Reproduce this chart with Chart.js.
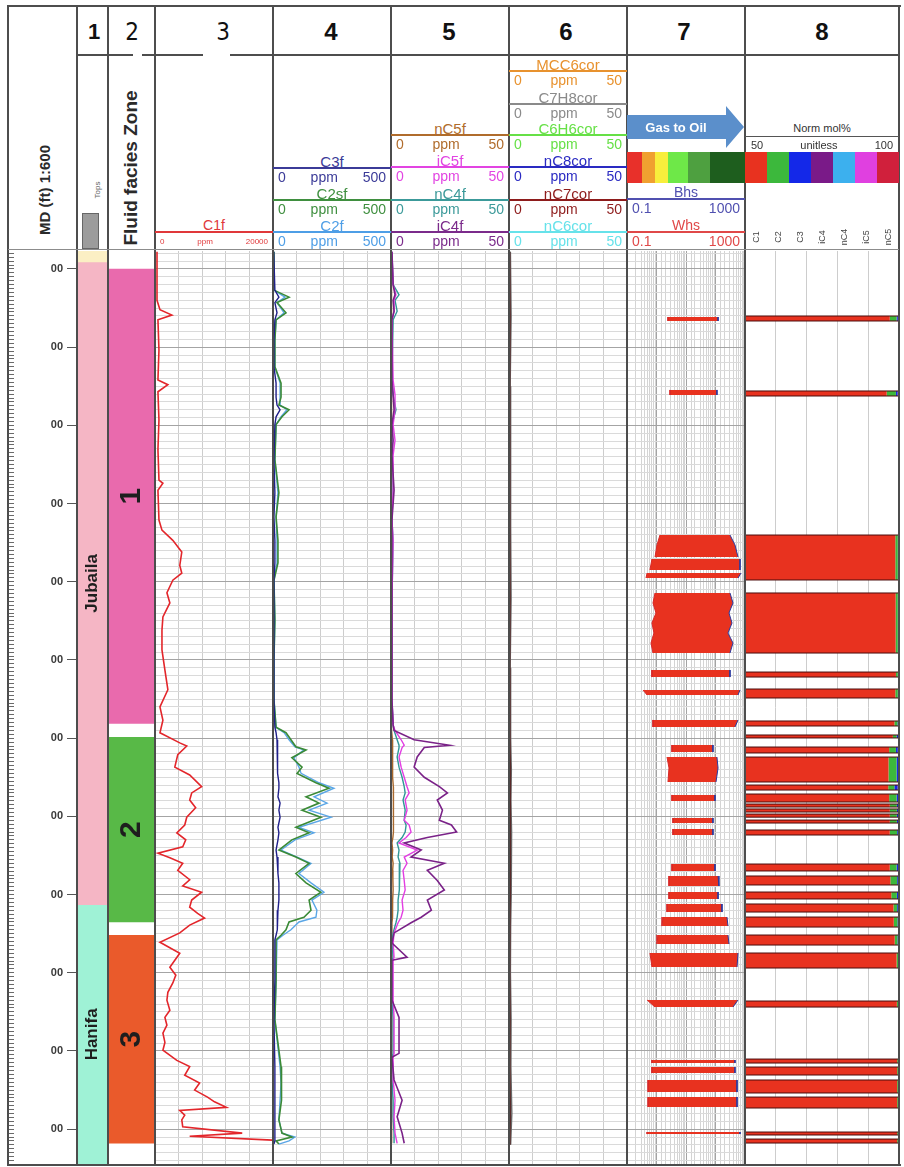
<!DOCTYPE html>
<html>
<head>
<meta charset="utf-8">
<title>Mud gas log</title>
<script src="https://cdn.jsdelivr.net/npm/chart.js@4.4.1/dist/chart.umd.min.js"></script>
<style>
  html, body { margin: 0; padding: 0; background: #fff; }
  #page { position: relative; width: 904px; height: 1167px; overflow: hidden; font-family: "Liberation Sans", Arial, sans-serif; }
  #page canvas { position: absolute; }
</style>
</head>
<body>
<div id="page"></div>
<script>
// ---------- depth range (ft) ----------
const depthMin = 77;
const depthMax = 1244.5;

// ---------- track 1 : tops ----------
const formationNames = ['', 'Jubaila', 'Hanifa'];
const formationTop = [40, 91, 913];
const formationBase = [91, 913, 1260];

// ---------- track 2 : fluid facies zones ----------
const zoneNames = ['1', '2', '3'];
const zoneTop = [100, 699, 952];
const zoneBase = [681, 935, 1218];

// ---------- track 3 : C1f (ppm) ----------
const c1fDepth = [78, 114, 140, 152, 159, 165, 204, 242, 248, 257, 293, 331, 370, 374, 383, 421, 434, 447, 462, 479,
  489, 498, 514, 527, 545, 562, 587, 613, 638, 660, 677, 693, 706, 710, 721, 737, 747, 762, 770, 779,
  789, 801, 811, 821, 830, 839, 847, 853, 860, 869, 881, 889, 897, 907, 916, 924, 930, 939, 949, 961,
  975, 984, 993, 1003, 1013, 1025, 1035, 1048, 1057, 1067, 1077, 1089, 1099, 1112, 1120, 1131, 1141, 1150, 1159, 1165,
  1172, 1176, 1182, 1188, 1197, 1205, 1209, 1214];
const c1f = [340, 340, 340, 840, 2860, 500, 670, 500, 2180, 500, 670, 500, 670, 1340, 500, 670, 1180, 3020, 4540, 4200,
  4540, 3020, 2020, 2520, 1340, 1180, 1180, 1680, 2180, 840, 1340, 840, 4200, 5380, 3860, 3360, 5880, 7900, 6220, 5880,
  6890, 5380, 5040, 3700, 5210, 4700, 500, 2520, 4700, 3860, 5880, 4700, 7900, 6220, 5880, 7220, 8400, 5880, 4200, 840,
  4200, 3360, 2520, 3530, 3020, 2180, 2020, 2520, 1680, 2020, 1340, 1680, 1340, 3700, 5880, 5040, 7560, 6720, 8900, 10080,
  12100, 4200, 5040, 4540, 4700, 14780, 5880, 19900];

// ---------- track 4 : C3f, C2sf, C2f (ppm) ----------
const t4Depth = [78, 127, 136, 143, 156, 165, 191, 225, 246, 264, 274, 280, 289, 299, 344, 386, 417, 447, 476, 498,
  549, 600, 651, 686, 693, 702, 711, 715, 725, 737, 745, 757, 764, 775, 783, 792, 801, 814, 821, 830,
  843, 852, 860, 873, 885, 897, 907, 920, 929, 935, 945, 952, 958, 1009, 1060, 1120, 1141, 1163, 1188, 1205,
  1210, 1215, 1219];
const c3f = [3, 8, 25, 8, 17, 8, 4, 4, 13, 13, 17, 30, 13, 8, 4, 8, 4, 8, 8, 4,
  4, 4, 4, 8, 13, 17, 17, 21, 17, 21, 21, 25, 25, 21, 30, 25, 30, 21, 25, 21,
  13, 17, 21, 21, 25, 25, 25, 21, 21, 17, 17, 13, 8, 8, 4, 8, 8, 8, 8, 8,
  8, 8, 4];
const c2sf = [4, 4, 68, 17, 55, 13, 8, 8, 34, 34, 25, 68, 38, 13, 8, 25, 13, 21, 21, 4,
  8, 4, 4, 13, 55, 76, 97, 140, 80, 123, 102, 182, 237, 140, 195, 123, 203, 97, 153, 80,
  25, 97, 153, 97, 140, 203, 153, 161, 131, 68, 55, 34, 13, 13, 8, 34, 38, 34, 25, 38,
  80, 13, 25];
const c2f = [4, 4, 51, 17, 47, 13, 8, 8, 30, 30, 30, 59, 34, 13, 8, 21, 13, 17, 17, 4,
  8, 4, 4, 13, 47, 68, 93, 131, 89, 110, 119, 195, 258, 174, 229, 153, 246, 110, 174, 93,
  34, 102, 161, 110, 161, 216, 165, 186, 182, 110, 76, 42, 17, 13, 8, 30, 34, 30, 25, 38,
  93, 68, 25];

// ---------- track 5 : iC4f, iC5f, nC4f, nC5f (ppm) ----------
const t5Depth = [78, 120, 133, 140, 154, 165, 242, 261, 280, 299, 319, 338, 383, 421, 447, 523, 587, 651, 683, 690,
  702, 709, 712, 724, 737, 750, 762, 770, 779, 792, 805, 811, 820, 827, 834, 843, 852, 860, 869, 882,
  894, 907, 920, 929, 936, 949, 962, 980, 984, 1035, 1057, 1103, 1108, 1137, 1163, 1184, 1205, 1218];
const ic4f = [0.4, 0.9, 1.7, 0.9, 1.3, 0.4, 0.4, 0.9, 1.3, 0.4, 0.9, 0.4, 1.3, 0.4, 0.4, 0.4, 0.4, 0.4, 0.9, 1.3,
  9.8, 24.8, 14.1, 11.1, 9.8, 14.1, 20.5, 23.9, 19.6, 21.8, 20.5, 25.6, 27.8, 15.4, 5.6, 12.8, 8.5, 22.6, 15.4, 19.6,
  22.6, 15.4, 17.1, 12.8, 8.5, 1.3, 0.4, 6.8, 0.4, 0.4, 3.4, 3.4, 0.4, 1.3, 4.7, 2.6, 4.7, 5.6];
const ic5f = [0.4, 0.9, 2.1, 1.3, 1.3, 0.4, 0.9, 1.7, 1.7, 0.9, 1.7, 0.9, 0.9, 0.4, 0.9, 0.4, 0.4, 0.4, 0.9, 1.7,
  4.3, 5.6, 4.7, 3.4, 4.3, 5.6, 6.8, 7.7, 6.0, 6.8, 5.6, 7.7, 8.5, 6.4, 3.4, 11.1, 5.6, 6.8, 5.1, 5.6,
  6.0, 4.7, 5.1, 4.3, 3.0, 1.3, 0.9, 1.3, 0.9, 0.9, 1.3, 1.3, 0.9, 0.9, 1.7, 1.3, 1.7, 2.6];
const nc4f = [0.4, 0.9, 3.4, 1.7, 2.6, 0.9, 0.4, 0.9, 2.1, 0.4, 0.4, 0.4, 0.4, 0.4, 0.9, 0.4, 0.4, 0.4, 0.9, 1.3,
  2.6, 3.4, 3.4, 2.6, 3.4, 4.7, 5.6, 6.0, 5.1, 6.0, 5.6, 6.4, 6.0, 4.7, 2.6, 3.4, 3.0, 3.8, 3.4, 3.4,
  3.8, 3.0, 3.0, 2.6, 2.1, 0.9, 0.4, 0.9, 0.4, 0.4, 0.9, 0.9, 0.4, 0.4, 0.9, 0.9, 1.3, 1.3];
const nc5f = [0.2, 0.2, 0.4, 0.2, 0.3, 0.2, 0.2, 0.2, 0.3, 0.2, 0.2, 0.2, 0.2, 0.2, 0.2, 0.2, 0.2, 0.2, 0.2, 0.3,
  0.6, 0.8, 0.7, 0.5, 0.6, 0.8, 1.0, 1.1, 0.9, 1.0, 0.9, 1.1, 1.2, 0.8, 0.4, 0.7, 0.5, 0.9, 0.7, 0.8,
  0.9, 0.7, 0.7, 0.6, 0.4, 0.2, 0.2, 0.3, 0.2, 0.2, 0.3, 0.3, 0.2, 0.2, 0.3, 0.3, 0.3, 0.4];

// ---------- track 6 : aromatics / heavy cuts (ppm) ----------
const t6Depth = [78, 160, 250, 340, 430, 520, 610, 700, 740, 780, 820, 860, 900, 940, 1000, 1060, 1120, 1180, 1220];
const mcc6cor = [0.2, 0.3, 0.2, 0.2, 0.2, 0.3, 0.2, 0.2, 0.4, 0.3, 0.4, 0.3, 0.3, 0.2, 0.2, 0.3, 0.2, 0.4, 0.2];
const c7h8cor = [0.6, 0.9, 0.5, 0.8, 0.6, 0.9, 0.5, 0.7, 1.0, 0.8, 1.1, 0.9, 1.0, 0.7, 0.6, 0.9, 0.8, 1.2, 0.7];
const c6h6cor = [0.1, 0.2, 0.1, 0.1, 0.1, 0.2, 0.1, 0.1, 0.3, 0.2, 0.3, 0.2, 0.2, 0.1, 0.1, 0.2, 0.1, 0.3, 0.1];
const nc8cor = [0.2, 0.2, 0.1, 0.2, 0.2, 0.2, 0.1, 0.2, 0.3, 0.3, 0.3, 0.2, 0.3, 0.2, 0.1, 0.2, 0.2, 0.3, 0.2];
const nc7cor = [0.3, 0.5, 0.3, 0.4, 0.3, 0.5, 0.3, 0.4, 0.6, 0.5, 0.7, 0.5, 0.6, 0.4, 0.3, 0.5, 0.4, 0.6, 0.4];
const nc6cor = [0.3, 0.4, 0.3, 0.3, 0.3, 0.4, 0.3, 0.3, 0.5, 0.4, 0.6, 0.4, 0.5, 0.3, 0.3, 0.4, 0.3, 0.5, 0.3];

// ---------- track 7 : Whs / Bhs (null = no gas show) ----------
const t7Depth = [
  161.4, 166.5, 170,   254.7, 261.1, 300,   440.2, 452.9, 468.3, 469.6,   470.9, 484.9, 486.8,   488.8, 495.2, 505,
  514.3, 527.1, 539.9, 552.7, 565.5, 578.3, 591.1, 600,   612.8, 621.8, 630,   638.4, 644.8, 660,   676.7, 685.7, 697,
  708.7, 717.7, 721,   724.1, 738.1, 756.0, 765,   772.6, 780.3, 790,   802.1, 808.5, 812,   816.1, 823.8, 840,
  860.9, 869.8, 873,   876.2, 889.0, 893,   896.7, 905.6, 909,   912.0, 922.3, 925,   928.7, 940.2, 946,
  951.7, 963.2, 969,   974.7, 992.6, 1010,   1034.8, 1043.8, 1080,   1111.5, 1115.4, 1118,   1120.5, 1128.2, 1133,
  1137.1, 1152.5, 1156,   1158.9, 1171.6, 1190,   1203.6, 1206.2];
const t7Whs = [
  2.45, 2.45, null,   2.87, 2.87, null,   1.31, 1.04, 0.89, null,   0.70, 0.60, null,   0.48, 0.44, null,
  0.89, 0.76, 0.96, 0.70, 0.82, 0.65, 0.76, null,   0.70, 0.70, null,   0.35, 0.48, null,   0.76, 0.76, null,
  3.35, 3.35, null,   2.27, 2.65, 2.45, null,   3.35, 3.35, null,   3.62, 3.62, null,   3.62, 3.62, null,
  3.35, 3.35, null,   2.65, 2.65, null,   2.65, 2.65, null,   2.27, 2.27, null,   1.66, 1.54, null,
  1.12, 1.04, null,   0.60, 0.70, null,   0.48, 0.89, null,   0.70, 0.70, null,   0.70, 0.70, null,
  0.52, 0.52, null,   0.52, 0.52, null,   0.48, 0.48];
const t7Bhs = [
  122, 122, null,   112, 112, null,   310, 458, 580, null,   677, 677, null,   731, 580, null,
  310, 392, 287, 363, 265, 392, 310, null,   310, 310, null,   677, 580, null,   580, 458, null,
  82, 82, null,   112, 122, 104, null,   96, 96, null,   82, 82, null,   82, 82, null,
  96, 96, null,   122, 131, null,   122, 122, null,   166, 166, null,   245, 265, null,
  265, 287, null,   580, 537, null,   580, 392, null,   458, 458, null,   458, 458, null,
  537, 537, null,   537, 537, null,   677, 677];

// ---------- track 8 : normalised composition (mol%) ----------
const compNames = ['C1', 'C2', 'C3', 'iC4', 'nC4', 'iC5', 'nC5'];
const t8Top = [160.1, 256.0, 440.2, 514.3, 615.4, 637.1, 678.0, 695.9, 711.3, 724.1, 759.9, 771.4, 784.2, 790.5, 797.0, 804.7,
  817.4, 860.9, 876.2, 896.7, 912.0, 928.7, 951.7, 974.7, 1036.1, 1110.3, 1120.5, 1137.1, 1158.9, 1203.6, 1212.6];
const t8Base = [166.5, 262.4, 497.7, 591.1, 621.8, 648.6, 684.4, 699.7, 718.9, 756.0, 766.3, 781.6, 788.0, 794.4, 801.0, 808.5,
  823.8, 869.8, 887.7, 905.6, 922.3, 941.5, 964.5, 993.9, 1043.8, 1115.4, 1130.7, 1153.7, 1172.9, 1207.4, 1217.7];
const c1Pct = [97.0, 96.0, 98.8, 98.9, 99.0, 98.8, 98.5, 98.0, 96.8, 96.6, 96.5, 96.8, 97.0, 97.0, 97.0, 97.0,
  97.0, 97.0, 97.2, 97.5, 98.2, 98.3, 98.6, 99.2, 99.3, 99.4, 99.4, 99.4, 99.4, 99.4, 99.4];
const c2Pct = [2.2, 3.0, 0.8, 0.7, 0.6, 0.8, 1.0, 1.2, 2.2, 2.6, 2.0, 2.4, 2.3, 2.3, 2.3, 2.3,
  2.4, 2.2, 2.2, 1.8, 1.2, 1.2, 0.9, 0.5, 0.4, 0.4, 0.4, 0.4, 0.4, 0.4, 0.4];
const c3Pct = [0.4, 0.5, 0.2, 0.2, 0.2, 0.2, 0.3, 0.5, 0.6, 0.5, 1.0, 0.5, 0.4, 0.4, 0.4, 0.4,
  0.3, 0.5, 0.4, 0.4, 0.4, 0.3, 0.3, 0.2, 0.2, 0.1, 0.1, 0.1, 0.1, 0.1, 0.1];
const ic4Pct = [0.1, 0.2, 0.1, 0.1, 0.1, 0.1, 0.1, 0.1, 0.2, 0.1, 0.2, 0.1, 0.1, 0.1, 0.1, 0.1,
  0.1, 0.1, 0.1, 0.1, 0.1, 0.1, 0.1, 0.05, 0.05, 0.05, 0.05, 0.05, 0.05, 0.05, 0.05];
const nc4Pct = [0.1, 0.2, 0.1, 0.1, 0.1, 0.1, 0.1, 0.1, 0.1, 0.1, 0.2, 0.1, 0.1, 0.1, 0.1, 0.1,
  0.1, 0.1, 0.1, 0.1, 0.1, 0.1, 0.1, 0.05, 0.05, 0.05, 0.05, 0.05, 0.05, 0.05, 0.05];
const ic5Pct = [0.05, 0.05, 0.05, 0.05, 0.05, 0.05, 0.05, 0.05, 0.05, 0.05, 0.05, 0.05, 0.05, 0.05, 0.05, 0.05,
  0.05, 0.05, 0.05, 0.05, 0.05, 0.05, 0.05, 0.05, 0.05, 0.05, 0.05, 0.05, 0.05, 0.05, 0.05];
const nc5Pct = [0.05, 0.05, 0.05, 0.05, 0.05, 0.05, 0.05, 0.05, 0.05, 0.05, 0.05, 0.05, 0.05, 0.05, 0.05, 0.05,
  0.05, 0.05, 0.05, 0.05, 0.05, 0.05, 0.05, 0.05, 0.05, 0.05, 0.05, 0.05, 0.05, 0.05, 0.05];

// ---------- colours ----------
const formationColors = ['#fbefc4', '#f5b6c5', '#9ff2d6'];
const zoneColors = ['#e96aad', '#58b947', '#ea5a2b'];
const compColors = ['#e8321f', '#3cb83c', '#1428e8', '#7a1a88', '#3cb0ee', '#e040e0', '#d0203c'];
const fluidColors = ['#e8302a', '#f0a030', '#f8ee3c', '#6ee848', '#4ea040', '#1e5e1e'];

// ---------- page helpers ----------
const page = document.getElementById('page');
const plotTop = 251;
const plotHeight = 913;
const SANS = '"Liberation Sans", Arial, sans-serif';
const NARROW = '"Liberation Sans Narrow", "DejaVu Sans Condensed", "Liberation Sans", sans-serif';

function put(css) {
  const d = document.createElement('div');
  d.style.cssText = 'position:absolute;white-space:nowrap;line-height:1;' + css;
  page.appendChild(d);
  return d;
}
function rect(x, y, w, h, color, extra) {
  return put(`left:${x}px;top:${y}px;width:${w}px;height:${h}px;background:${color};` + (extra || ''));
}
function text(str, cx, cy, font, color, rotate) {
  const d = put(`left:${cx}px;top:${cy}px;font:${font};color:${color};transform:translate(-50%,-50%)${rotate ? ' rotate(-90deg)' : ''};`);
  d.textContent = str;
  return d;
}
function scaleHead(x0, x1, yLine, name, color, lo, unit, hi, nameFont, rowFont) {
  text(name, (x0 + x1) / 2, yLine - 7.5, nameFont, color);
  rect(x0, yLine - 1, x1 - x0, 2, color);
  const row = put(`left:${x0}px;top:${yLine + 2}px;width:${x1 - x0}px;height:14px;display:flex;justify-content:space-between;align-items:center;box-sizing:border-box;padding:0 5px;font:${rowFont};color:${color};`);
  [lo, unit, hi].forEach(s => {
    const sp = document.createElement('span');
    sp.textContent = s;
    row.appendChild(sp);
  });
}
function makeCanvas(id, left, width) {
  const c = document.createElement('canvas');
  c.id = id;
  c.width = width;
  c.height = plotHeight;
  c.style.left = left + 'px';
  c.style.top = plotTop + 'px';
  c.style.width = width + 'px';
  c.style.height = plotHeight + 'px';
  page.appendChild(c);
  return c;
}

// ---------- chart helpers ----------
const baseOptions = () => ({
  responsive: false,
  animation: false,
  events: [],
  layout: { padding: 0, autoPadding: false },
  plugins: { legend: { display: false }, tooltip: { enabled: false } }
});

function depthGrid(show) {
  return {
    type: 'linear', reverse: true, min: depthMin, max: depthMax, display: show,
    ticks: { display: false, stepSize: 10, includeBounds: false },
    grid: { drawTicks: false, color: (c) => (c.tick && c.tick.value % 100 === 0) ? '#a4a4a4' : '#dadada' },
    border: { display: false }
  };
}
function valueAxis(min, max, step) {
  return {
    type: 'linear', min: min, max: max,
    ticks: { display: false, stepSize: step },
    grid: { drawTicks: false, color: '#cdcdcd' },
    border: { display: false }
  };
}
function curve(label, depth, values, color, width) {
  return {
    label: label,
    data: depth.map((d, i) => ({ x: values[i], y: d })),
    showLine: true,
    borderColor: color,
    backgroundColor: color,
    borderWidth: width || 1.4,
    pointRadius: 0
  };
}
// keep the depth axes from shrinking the plot for label overhang
const fixWidth = (w) => (s) => { s.width = w; s.paddingTop = 0; s.paddingBottom = 0; };

// writes the rotated name of each interval in the middle of its bar
const barText = {
  id: 'barText',
  afterDatasetsDraw(chart) {
    const ctx = chart.ctx;
    const area = chart.chartArea;
    chart.data.datasets.forEach((ds, i) => {
      if (!ds.tag) return;
      const bar = chart.getDatasetMeta(i).data[0];
      const top = Math.max(Math.min(bar.y, bar.base), area.top);
      const bottom = Math.min(Math.max(bar.y, bar.base), area.bottom);
      ctx.save();
      ctx.translate(bar.x, (top + bottom) / 2);
      ctx.rotate(-Math.PI / 2);
      ctx.font = ds.tagFont;
      ctx.fillStyle = '#1e1e1e';
      ctx.textAlign = 'center';
      ctx.textBaseline = 'middle';
      ctx.fillText(ds.tag, 0, 0);
      ctx.restore();
    });
  }
};

// ---------- depth column + tops ----------
new Chart(makeCanvas('depth', 8, 100), {
  type: 'bar',
  data: {
    labels: ['Tops'],
    datasets: formationNames.map((n, i) => ({
      label: n,
      data: [[formationTop[i], formationBase[i]]],
      backgroundColor: formationColors[i],
      barPercentage: 1, categoryPercentage: 1, grouped: false,
      tag: n, tagFont: 'bold 17px ' + SANS
    }))
  },
  options: Object.assign(baseOptions(), {
    scales: {
      x: { display: false },
      yR: {
        type: 'linear', position: 'left', weight: 2, reverse: true, min: depthMin, max: depthMax,
        ticks: { display: false, stepSize: 5, includeBounds: false },
        grid: { drawOnChartArea: false, tickLength: 5, color: '#6a6a6a' },
        border: { display: false },
        afterFit: fixWidth(6)
      },
      y: {
        type: 'linear', position: 'left', weight: 1, reverse: true, min: depthMin, max: depthMax,
        ticks: {
          stepSize: 100, includeBounds: false, padding: 4, color: '#3a3a3a',
          font: { family: SANS, size: 11, weight: 'bold' },
          callback: (v) => String(v).slice(-2)
        },
        grid: { drawOnChartArea: false, tickLength: 10, color: '#555' },
        border: { display: false },
        afterFit: fixWidth(63)
      }
    }
  }),
  plugins: [barText]
});

// ---------- fluid facies zones ----------
new Chart(makeCanvas('zones', 108, 47), {
  type: 'bar',
  data: {
    labels: ['Zone'],
    datasets: zoneNames.map((n, i) => ({
      label: n,
      data: [[zoneTop[i], zoneBase[i]]],
      backgroundColor: zoneColors[i],
      barPercentage: 1, categoryPercentage: 1, grouped: false,
      tag: n, tagFont: 'bold 30px ' + SANS
    }))
  },
  options: Object.assign(baseOptions(), {
    scales: {
      x: { display: false },
      y: { type: 'linear', display: false, reverse: true, min: depthMin, max: depthMax }
    }
  }),
  plugins: [barText]
});

// ---------- track 3 ----------
new Chart(makeCanvas('t3', 155, 118), {
  type: 'scatter',
  data: { datasets: [curve('C1f', c1fDepth, c1f, '#e3262b', 1.6)] },
  options: Object.assign(baseOptions(), { scales: { x: valueAxis(0, 20000, 4000), y: depthGrid(true) } })
});

// ---------- track 4 ----------
new Chart(makeCanvas('t4', 273, 118), {
  type: 'scatter',
  data: {
    datasets: [
      curve('C3f', t4Depth, c3f, '#20208a', 1.4),
      curve('C2sf', t4Depth, c2sf, '#3a8a36', 1.6),
      curve('C2f', t4Depth, c2f, '#5aa6e6', 1.4)
    ]
  },
  options: Object.assign(baseOptions(), { scales: { x: valueAxis(0, 500, 100), y: depthGrid(true) } })
});

// ---------- track 5 ----------
new Chart(makeCanvas('t5', 391, 118), {
  type: 'scatter',
  data: {
    datasets: [
      curve('iC4f', t5Depth, ic4f, '#7a2288', 1.6),
      curve('iC5f', t5Depth, ic5f, '#e23ee2', 1.4),
      curve('nC4f', t5Depth, nc4f, '#2f9696', 1.4),
      curve('nC5f', t5Depth, nc5f, '#a8682c', 1.4)
    ]
  },
  options: Object.assign(baseOptions(), { scales: { x: valueAxis(0, 50, 10), y: depthGrid(true) } })
});

// ---------- track 6 ----------
new Chart(makeCanvas('t6', 509, 118), {
  type: 'scatter',
  data: {
    datasets: [
      curve('nC7cor', t6Depth, nc7cor, '#5a2a2a', 1.4),
      curve('C7H8cor', t6Depth, c7h8cor, '#6a6a6a', 1.4),
      curve('MCC6cor', t6Depth, mcc6cor, '#e8922e', 1),
      curve('C6H6cor', t6Depth, c6h6cor, '#66e046', 1),
      curve('nC8cor', t6Depth, nc8cor, '#2a2ac2', 1),
      curve('nC6cor', t6Depth, nc6cor, '#66e2ea', 1)
    ]
  },
  options: Object.assign(baseOptions(), { scales: { x: valueAxis(0, 50, 10), y: depthGrid(true) } })
});

// ---------- track 7 : wetness / balance with fill ----------
const isDecade = (v) => Math.abs(Math.log10(v) - Math.round(Math.log10(v))) < 1e-6;
new Chart(makeCanvas('t7', 627, 118), {
  type: 'line',
  data: {
    datasets: [
      {
        label: 'Whs', indexAxis: 'y',
        data: t7Depth.map((d, i) => ({ x: t7Whs[i], y: d })),
        borderColor: '#d82828', borderWidth: 1, pointRadius: 0, fill: false
      },
      {
        label: 'Bhs', indexAxis: 'y',
        data: t7Depth.map((d, i) => ({ x: t7Bhs[i], y: d })),
        borderColor: '#2a3aa0', borderWidth: 1, pointRadius: 0,
        backgroundColor: '#e8321f', fill: '-1'
      }
    ]
  },
  options: Object.assign(baseOptions(), {
    scales: {
      x: {
        type: 'logarithmic', min: 0.1, max: 1000,
        ticks: { display: false },
        grid: { drawTicks: false, color: (c) => (c.tick && isDecade(c.tick.value)) ? '#a4a4a4' : '#d4d4d4' },
        border: { display: false }
      },
      y: depthGrid(true)
    }
  })
});

// ---------- track 8 : stacked composition bars ----------
const comps = [c1Pct, c2Pct, c3Pct, ic4Pct, nc4Pct, ic5Pct, nc5Pct];
const running = t8Top.map(() => 0);
const compSets = comps.map((arr, k) => {
  const pts = [];
  t8Top.forEach((top, i) => {
    running[i] += arr[i];
    pts.push({ x: running[i], y: top }, { x: running[i], y: t8Base[i] }, { x: null, y: t8Base[i] });
  });
  return {
    type: 'line', indexAxis: 'y', label: compNames[k], data: pts,
    borderWidth: 0, pointRadius: 0, backgroundColor: compColors[k],
    fill: k === 0 ? { value: 50 } : '-1'
  };
});
const outlinePts = [];
t8Top.forEach((top, i) => {
  outlinePts.push({ x: 50, y: top }, { x: 100, y: top }, { x: 100, y: t8Base[i] }, { x: 50, y: t8Base[i] }, { x: 50, y: top }, { x: null, y: null });
});
new Chart(makeCanvas('t8', 745, 154), {
  type: 'line',
  data: {
    datasets: [{
      type: 'scatter', label: 'outline', data: outlinePts, showLine: true,
      borderColor: '#4a0c0c', borderWidth: 1, pointRadius: 0, fill: false
    }].concat(compSets)
  },
  options: Object.assign(baseOptions(), {
    scales: {
      x: valueAxis(50, 100, 10),
      y: { type: 'linear', display: false, reverse: true, min: depthMin, max: depthMax }
    }
  })
});

// ---------- header ----------
const frame = '#4d4d4d';
const sepX = [8, 77, 108, 155, 273, 391, 509, 627, 745, 899];
sepX.forEach(x => rect(x - 1, 6, 2, 1159, frame));
rect(7, 5, 894, 2, frame);
rect(7, 1164, 894, 2, frame);
rect(77, 54, 56, 2, frame);
rect(142, 54, 61, 2, frame);
rect(230, 54, 670, 2, frame);
rect(8, 249, 891, 1, '#8c8c8c');

// track numbers
text('1', 94, 32, 'bold 22px ' + SANS, '#111');
text('2', 132, 32, '24px ' + NARROW, '#111');
text('3', 223, 32, '24px ' + NARROW, '#111');
text('4', 331, 32, 'bold 24px ' + SANS, '#111');
text('5', 449, 32, 'bold 24px ' + SANS, '#111');
text('6', 566, 32, 'bold 24px ' + SANS, '#111');
text('7', 684, 32, 'bold 24px ' + SANS, '#111');
text('8', 822, 32, 'bold 24px ' + SANS, '#111');

// column titles
text('MD (ft) 1:600', 44, 190, 'bold 15px ' + SANS, '#2a2a2a', true);
text('Tops', 97, 190, '8px ' + SANS, '#666', true);
rect(82, 213, 17, 36, '#9c9c9c', 'box-sizing:border-box;border:1px solid #666;');
text('Fluid facies Zone', 131, 168, 'bold 19px ' + SANS, '#2a2a2a', true);

const nameFont = '15px ' + SANS;
const rowFont = '14px ' + SANS;
scaleHead(155, 273, 232, 'C1f', '#e0383a', '0', 'ppm', '20000', '14px ' + SANS, '8px ' + SANS);

scaleHead(273, 391, 168, 'C3f', '#3b3b98', '0', 'ppm', '500', nameFont, rowFont);
scaleHead(273, 391, 200, 'C2sf', '#3f8f3f', '0', 'ppm', '500', nameFont, rowFont);
scaleHead(273, 391, 232, 'C2f', '#4e9ee6', '0', 'ppm', '500', nameFont, rowFont);

scaleHead(391, 509, 135, 'nC5f', '#b06c2c', '0', 'ppm', '50', nameFont, rowFont);
scaleHead(391, 509, 167, 'iC5f', '#e244e2', '0', 'ppm', '50', nameFont, rowFont);
scaleHead(391, 509, 200, 'nC4f', '#3c9a9a', '0', 'ppm', '50', nameFont, rowFont);
scaleHead(391, 509, 232, 'iC4f', '#7b2b8b', '0', 'ppm', '50', nameFont, rowFont);

scaleHead(509, 627, 71, 'MCC6cor', '#e8922e', '0', 'ppm', '50', nameFont, rowFont);
scaleHead(509, 627, 104, 'C7H8cor', '#8a8a8a', '0', 'ppm', '50', nameFont, rowFont);
scaleHead(509, 627, 135, 'C6H6cor', '#66e046', '0', 'ppm', '50', nameFont, rowFont);
scaleHead(509, 627, 167, 'nC8cor', '#2a2ac2', '0', 'ppm', '50', nameFont, rowFont);
scaleHead(509, 627, 200, 'nC7cor', '#8e1c1c', '0', 'ppm', '50', nameFont, rowFont);
scaleHead(509, 627, 232, 'nC6cor', '#66e2ea', '0', 'ppm', '50', nameFont, rowFont);

// track 7 header
put('left:627px;top:106px;width:117px;height:42px;background:#5b8fcb;clip-path:polygon(0 9px, 99px 9px, 99px 0, 117px 21px, 99px 42px, 99px 33px, 0 33px);');
text('Gas to Oil', 676, 127, 'bold 13px ' + SANS, '#ffffff');
const fluidEdges = [627, 642, 655, 668, 688, 710, 745];
fluidColors.forEach((c, i) => rect(fluidEdges[i], 152, fluidEdges[i + 1] - fluidEdges[i], 31, c));
scaleHead(627, 745, 199, 'Bhs', '#5050b0', '0.1', '', '1000', '14px ' + SANS, rowFont);
scaleHead(627, 745, 232, 'Whs', '#e04848', '0.1', '', '1000', '14px ' + SANS, rowFont);

// track 8 header
text('Norm mol%', 822, 128, '11px ' + SANS, '#333');
rect(745, 136, 154, 1, '#555');
const unitRow = put('left:745px;top:139px;width:154px;height:12px;display:flex;justify-content:space-between;box-sizing:border-box;padding:0 6px;font:11px ' + SANS + ';color:#333;');
['50', 'unitless', '100'].forEach(s => {
  const sp = document.createElement('span');
  sp.textContent = s;
  unitRow.appendChild(sp);
});
compColors.forEach((c, i) => rect(745 + i * 22, 152, 22, 31, c));
compNames.forEach((n, i) => text(n, 756 + i * 22, 237, '9px ' + SANS, '#444', true));
</script>
</body>
</html>
